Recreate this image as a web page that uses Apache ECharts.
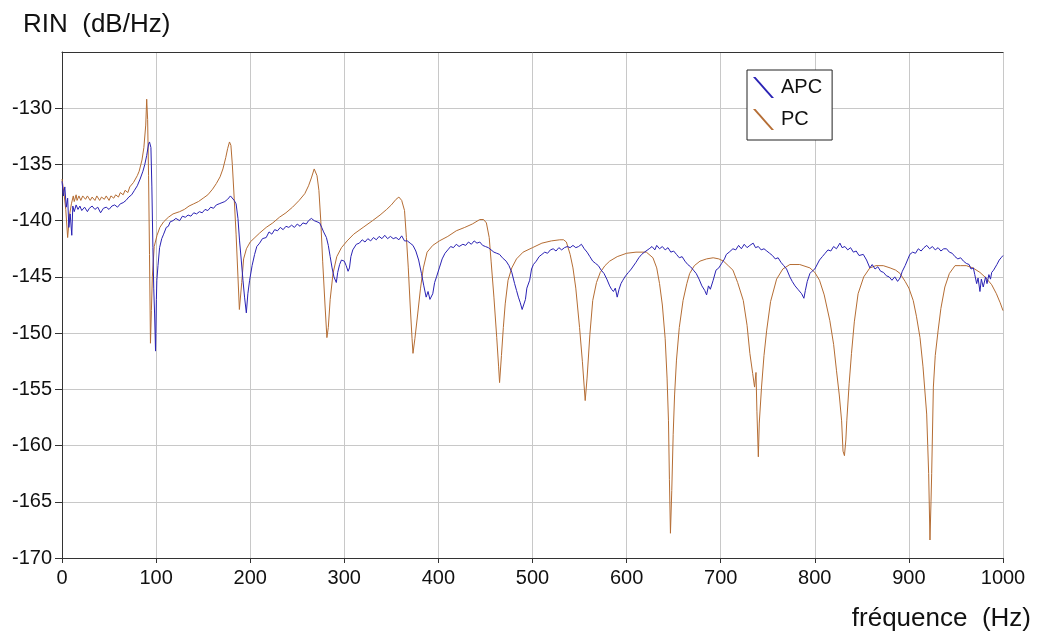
<!DOCTYPE html>
<html>
<head>
<meta charset="utf-8">
<script src="https://cdn.jsdelivr.net/npm/echarts@6/dist/echarts.min.js"></script>
<style>
html,body{margin:0;padding:0;background:#fff;}
#chart{width:1053px;height:634px;}
</style>
</head>
<body>
<div id="chart"></div>
<script>
// Tick values
const xTicks = [0,100,200,300,400,500,600,700,800,900,1000];
const yTicks = [-170,-165,-160,-155,-150,-145,-140,-135,-130,-125];
const seriesNames = ['APC','PC'];

// [frequency Hz, RIN dB/Hz]
const pcData = [
[0,-136.3],[2,-137.5],[4,-139.0],[6,-141.5],[8,-139.5],[10,-138.5],[12,-137.8],[13,-138.3],[15,-137.7],[16,-138.2],[18,-137.8],[20,-138.2],[22,-137.8],[25,-138.1],
[27,-137.8],[30,-138.2],[32,-137.9],[35,-138.2],[37,-137.8],[40,-138.2],[42,-137.9],[45,-138.1],[47,-137.8],[50,-138.2],[52,-137.8],[55,-138.0],[57,-137.7],[60,-137.9],[62,-137.5],[65,-137.7],[67,-137.3],[70,-137.5],[72,-137.0],[74,-137.1],
[76,-136.6],[78,-136.6],[80,-136.0],[82,-135.6],[85,-134.6],[87,-133.5],[89,-131.5],[90,-129.2],[91,-131.0],[92,-136.0],[93,-143.0],[94,-150.9],
[95,-148.0],[96,-145.0],[98,-142.3],[101,-141.3],[104,-140.6],[108,-140.1],[113,-139.7],[118,-139.4],[125,-139.2],[130,-139.0],
[135,-138.7],[140,-138.5],[145,-138.3],[150,-138.0],[155,-137.7],[160,-137.2],[164,-136.7],[168,-136.1],[171,-135.4],[174,-134.4],
[176,-133.6],[178,-133.0],[179.5,-133.3],[181,-135.0],[183,-138.0],[185,-141.2],[187,-145.0],[188.5,-147.9],[189.5,-147.8],[191,-145.5],
[193,-143.4],[196,-142.5],[200,-141.9],[205,-141.5],[210,-141.1],[217,-140.6],[224,-140.2],[231,-139.7],[238,-139.3],[245,-138.8],
[252,-138.2],[258,-137.6],[262,-136.9],[265,-136.2],[268,-135.4],[269.5,-135.4],[271,-136.0],[273,-137.3],[275,-140.0],[277,-143.6],
[279.5,-147.5],[281.5,-150.4],[283,-149.5],[285,-147.0],[288,-144.7],[292,-143.2],[297,-142.4],[303,-141.8],[310,-141.2],[320,-140.6],
[330,-140.0],[338,-139.5],[345,-139.0],[350,-138.6],[355,-138.1],[358,-137.9],[361,-138.2],[364,-139.1],[366,-141.5],[368,-144.2],
[370,-147.5],[372,-150.5],[373,-151.8],[375,-150.5],[378,-148.3],[381,-146.0],[384,-144.2],[388,-142.8],[394,-142.2],[401,-141.8],
[410,-141.4],[419,-140.9],[428,-140.6],[436,-140.3],[444,-139.9],[448,-139.9],[451,-140.2],[454,-141.5],[456,-143.6],[459,-146.8],
[462,-150.4],[464,-153.0],[465,-154.4],[467,-152.0],[469,-149.5],[471,-147.4],[474,-145.3],[478,-144.2],[483,-143.4],[490,-142.8],
[500,-142.4],[510,-142.0],[520,-141.8],[529,-141.7],[533,-141.7],[536,-141.9],[540,-143.0],[543,-144.2],[546,-146.0],[550,-149.5],
[553,-152.5],[556,-156.0],[558,-154.0],[561,-150.1],[564,-147.1],[568,-145.5],[572,-144.6],[577,-144.0],[582,-143.6],[590,-143.2],
[600,-142.9],[610,-142.8],[621,-142.8],[628,-143.3],[632,-144.2],[635,-145.6],[638,-147.5],[641,-150.5],[643,-154.0],[644.5,-157.8],
[645.5,-163.0],[646.6,-167.8],[648,-164.0],[649.5,-159.0],[651,-155.5],[653,-152.4],[656,-149.5],[660,-147.1],[664,-145.6],[667,-144.7],
[672,-144.0],[678,-143.6],[685,-143.4],[692,-143.3],[698,-143.4],[703,-143.6],[708,-144.0],[713,-144.4],[718,-145.5],[724,-147.1],
[728,-149.3],[731,-151.8],[734,-153.6],[736,-154.8],[737.5,-153.5],[738.5,-157.0],[740,-161.0],[741,-158.0],[743.4,-154.8],[746,-152.0],
[748.8,-149.8],[753,-147.2],[759.4,-145.2],[766,-144.3],[773.5,-143.9],[784,-143.9],[794.8,-144.2],[800,-144.6],[805,-145.3],[810,-146.6],
[816,-148.9],[820,-151.0],[823,-153.3],[826,-155.5],[828.5,-157.8],[830,-160.5],[831.5,-160.9],[833,-159.5],[834,-157.8],[836.5,-154.5],
[839,-151.8],[842,-149.0],[846,-146.5],[852,-145.0],[858.5,-144.2],[865,-144.0],[872.7,-144.0],[880,-144.2],[886,-144.4],[890.6,-144.7],
[896,-145.4],[900,-146.0],[904.6,-147.1],[908,-148.5],[911.8,-150.4],[915,-153.0],[918.9,-157.2],[920,-160.0],[921,-162.5],[922.4,-168.4],
[923.5,-165.0],[924.2,-162.5],[926,-154.8],[928,-152.0],[931,-149.8],[934,-147.8],[938.2,-145.9],[943,-144.7],[949,-144.0],[955,-144.0],
[961,-144.0],[968,-144.2],[975.5,-144.6],[982,-145.1],[988,-145.7],[993,-146.5],[997,-147.3],[1000,-148.0]
];

const apcData = [
[0,-136.5],[1.5,-137.8],[3,-137.0],[4.5,-138.8],[6,-138.0],[7.3,-140.6],[8.7,-139.4],[10.4,-141.3],[11.5,-138.7],[13,-139.2],
[15,-138.6],[17,-139.0],[19,-138.7],[21,-139.1],[24,-138.8],[27,-139.2],[29,-138.9],[32,-138.7],[35,-139.0],[38,-138.8],
[41,-139.3],[44,-138.9],[47,-138.8],[50,-139.0],[53,-138.7],[56,-138.6],[59,-138.8],[62,-138.5],[65,-138.4],[68,-138.2],
[71,-137.9],[74,-137.7],[77,-137.3],[80,-136.9],[83,-136.3],[86,-135.6],[88,-135.0],[90,-134.2],[92,-133.2],[93,-133.0],
[94.5,-133.5],[95.5,-137.0],[96.6,-142.4],[97.5,-146.0],[98.4,-148.3],[99.4,-151.6],[100.3,-147.0],[100.8,-145.3],[102,-144.0],[103.7,-142.4],
[106,-141.6],[108,-141.2],[110.8,-140.6],[113,-140.5],[115,-140.1],[118,-140.0],[121,-139.8],[125,-140.0],[128,-139.6],[131,-139.7],
[134,-139.5],[137,-139.6],[140,-139.3],[143,-139.4],[146,-139.2],[149,-139.3],[152,-139.0],[155,-139.1],[158,-138.8],[161,-138.9],
[164,-138.6],[167,-138.5],[170,-138.4],[173,-138.3],[176,-138.1],[179,-137.8],[181,-137.9],[183,-138.2],[185,-138.5],[187,-139.8],
[188.7,-141.8],[190.5,-143.5],[192.3,-145.3],[194,-146.8],[195.9,-148.2],[197.5,-146.5],[199.4,-145.3],[202,-144.0],[204.7,-143.0],[207,-142.3],
[210,-142.0],[213,-141.6],[217,-141.5],[220,-141.0],[223,-141.2],[226,-140.8],[229,-140.9],[232,-140.6],[235,-140.8],[238,-140.5],
[241,-140.6],[244,-140.4],[247,-140.6],[250,-140.3],[253,-140.5],[256,-140.2],[259.6,-140.3],[262,-140.0],[265,-139.8],[268,-140.0],
[271,-140.1],[273.8,-140.2],[276,-140.6],[278,-141.0],[281,-141.5],[283,-142.2],[285,-143.2],[287,-144.2],[289,-145.0],[291.5,-145.5],
[293,-144.6],[295,-143.9],[297,-143.5],[300,-143.6],[302,-144.0],[304,-144.5],[305.5,-144.2],[307,-143.2],[309,-142.6],[312.8,-142.1],
[316,-142.0],[319,-141.7],[322,-141.9],[325,-141.6],[328,-141.8],[331,-141.5],[334,-141.7],[337,-141.4],[340,-141.6],[343,-141.3],
[346,-141.6],[349,-141.4],[352,-141.6],[355,-141.5],[358,-141.7],[361,-141.35],[364,-141.8],[367,-141.8],[370,-142.0],[373,-142.2],
[376,-142.7],[379,-143.5],[382,-144.7],[384.5,-145.8],[387,-146.8],[389,-146.3],[391,-147.0],[394,-146.5],[396,-145.5],[398,-145.0],
[401,-144.2],[404,-143.4],[407,-142.9],[410,-142.6],[413,-142.3],[416,-142.4],[419,-142.1],[422,-142.3],[426,-142.1],[429,-142.2],
[432,-141.9],[435,-142.1],[438,-141.8],[441,-142.0],[444,-141.9],[447,-142.2],[450,-142.3],[453,-142.4],[456,-142.6],[459,-142.8],
[462,-142.9],[465,-143.0],[468,-143.3],[472,-143.6],[475,-144.0],[478,-144.6],[481,-145.6],[483,-146.2],[485,-146.8],[487,-147.3],
[489,-147.9],[490.7,-148.0],[492.5,-147.0],[494,-146.0],[497,-145.3],[499,-144.3],[501,-143.9],[504,-143.6],[507,-143.2],[510,-143.0],
[513,-142.8],[516,-142.9],[519,-142.6],[522,-142.5],[525,-142.7],[528,-142.4],[531,-142.6],[534,-142.4],[537,-142.3],[540,-142.4],
[543,-142.2],[546,-142.4],[549,-142.3],[552,-142.1],[555,-142.5],[558,-142.8],[561,-143.2],[564,-143.6],[567,-143.8],[570,-144.0],
[573,-144.4],[576,-144.7],[579,-145.2],[582,-145.8],[584,-146.1],[586,-146.3],[588,-146.0],[590,-146.8],[592,-146.1],[594,-145.6],
[596,-145.3],[599,-144.9],[602,-144.6],[605,-144.3],[607,-144.2],[610,-143.7],[613,-143.3],[616,-143.0],[619,-142.8],[621,-142.7],
[624,-142.5],[627,-142.3],[630,-142.6],[632,-142.2],[635,-142.5],[638,-142.3],[641,-142.6],[644,-142.4],[647,-142.8],[650,-142.7],
[653,-143.0],[656,-143.3],[659,-143.2],[662,-143.6],[665,-143.9],[668,-144.1],[671,-144.4],[674,-144.7],[677,-145.2],[680,-145.8],
[683,-146.2],[685,-146.6],[687,-145.8],[689,-146.1],[692,-145.3],[695,-144.4],[698,-144.2],[701,-143.8],[704,-143.4],[706,-143.0],
[709,-142.8],[713,-142.5],[716,-142.6],[719,-142.2],[722,-142.5],[725,-142.1],[728,-142.4],[731,-142.2],[734.5,-142.0],[737,-142.4],
[740,-142.3],[743,-142.6],[746,-142.5],[749,-142.7],[752,-142.9],[755,-143.1],[758,-143.4],[761,-143.3],[764,-143.7],[767,-144.0],
[770,-144.3],[773.5,-145.0],[776,-145.4],[779,-145.8],[782,-146.1],[784,-146.2],[786,-146.5],[788.4,-146.9],[790,-146.2],[792,-145.4],
[794.8,-144.7],[797,-144.5],[800,-144.3],[802,-144.2],[805,-143.5],[808,-143.2],[811,-142.9],[814,-142.6],[817,-142.7],[820,-142.3],
[823,-142.5],[826.7,-142.0],[829,-142.4],[832,-142.3],[835,-142.6],[838,-142.4],[841,-142.8],[844,-142.7],[847,-143.1],[851.5,-143.0],
[855,-143.5],[858.5,-144.2],[861,-143.9],[864,-144.3],[867,-144.1],[870,-144.5],[873,-144.6],[876,-144.9],[879,-145.0],[882,-145.3],
[885,-145.0],[888,-145.4],[890.6,-145.1],[893,-144.5],[896,-144.0],[899,-143.4],[901,-143.0],[904,-142.8],[907,-142.9],[910,-142.5],
[913,-142.7],[916,-142.4],[919,-142.2],[922,-142.5],[925,-142.3],[928,-142.6],[931,-142.4],[934,-142.7],[937,-142.5],[940,-142.5],
[943,-142.8],[946,-142.9],[949,-143.2],[952,-143.4],[955,-143.3],[958,-143.6],[961,-143.8],[964,-143.9],[966,-144.3],[968.5,-144.2],
[970,-144.8],[972,-145.6],[973.5,-145.1],[975.5,-146.3],[977,-145.2],[979,-145.9],[981.5,-145.0],[983,-145.6],[985,-144.8],[986.7,-145.2],
[988,-144.6],[990,-144.4],[993.5,-143.9],[996,-143.5],[998,-143.3],[1000,-143.1]
];

const chart = echarts.init(document.getElementById('chart'), null, {renderer:'canvas'});
const FONT = '"Liberation Sans", Arial, sans-serif';
const option = {
  animation: false,
  backgroundColor: '#ffffff',
  title: [
    {text: 'RIN  (dB/Hz)', left: 18, top: 7, textStyle: {fontFamily: FONT, fontSize: 26, fontWeight: 'normal', color: '#111'}},
    {text: 'fréquence  (Hz)', right: 17, top: 601, textStyle: {fontFamily: FONT, fontSize: 26, fontWeight: 'normal', color: '#111'}}
  ],
  grid: {left: 62, right: 50, top: 52, bottom: 76, show: false},
  legend: {
    orient: 'vertical', left: 747, top: 70,
    data: seriesNames,
    icon: 'path://M0,0 L2.5,0 L21,21 L18.5,21 Z',
    itemWidth: 21, itemHeight: 21, itemGap: 11,
    padding: [7, 10, 10, 6],
    backgroundColor: '#fff', borderColor: '#222', borderWidth: 1,
    textStyle: {fontFamily: FONT, fontSize: 20, color: '#111', padding: [0,0,0,2]}
  },
  xAxis: [{
    type: 'value', min: xTicks[0], max: xTicks[xTicks.length-1], interval: 100,
    axisLine: {show: true, onZero: false, lineStyle: {color: '#333', width: 1}},
    axisTick: {show: true, length: 5, lineStyle: {color: '#333'}},
    axisLabel: {fontFamily: FONT, fontSize: 20, color: '#111', margin: 10, formatter: v => String(v)},
    splitLine: {show: true, lineStyle: {color: '#c8c8c8', width: 1}}
  }, {
    type: 'value', position: 'top', min: 0, max: 1000,
    axisLine: {show: true, onZero: false, lineStyle: {color: '#333', width: 1}},
    axisTick: {show: false}, axisLabel: {show: false}, splitLine: {show: false}
  }],
  yAxis: {
    type: 'value', min: yTicks[0], max: yTicks[yTicks.length-1], interval: 5,
    axisLine: {show: true, onZero: false, lineStyle: {color: '#333', width: 1}},
    axisTick: {show: true, length: 7, inside: false, customValues: yTicks.slice(0, -1), lineStyle: {color: '#333'}},
    axisLabel: {fontFamily: FONT, fontSize: 20, color: '#111', margin: 10,
      formatter: v => (v === yTicks[yTicks.length-1] ? '' : String(v))},
    splitLine: {show: true, lineStyle: {color: '#c8c8c8', width: 1}}
  },
  series: [
    {name: 'APC', type: 'line', data: apcData, showSymbol: false, symbol: 'none',
     color: '#2a22b4', lineStyle: {width: 1, color: '#2a22b4'}, z: 3},
    {name: 'PC', type: 'line', data: pcData, showSymbol: false, symbol: 'none',
     color: '#b56d34', lineStyle: {width: 1, color: '#b56d34'}, z: 2}
  ]
};
chart.setOption(option);
</script>
</body>
</html>
